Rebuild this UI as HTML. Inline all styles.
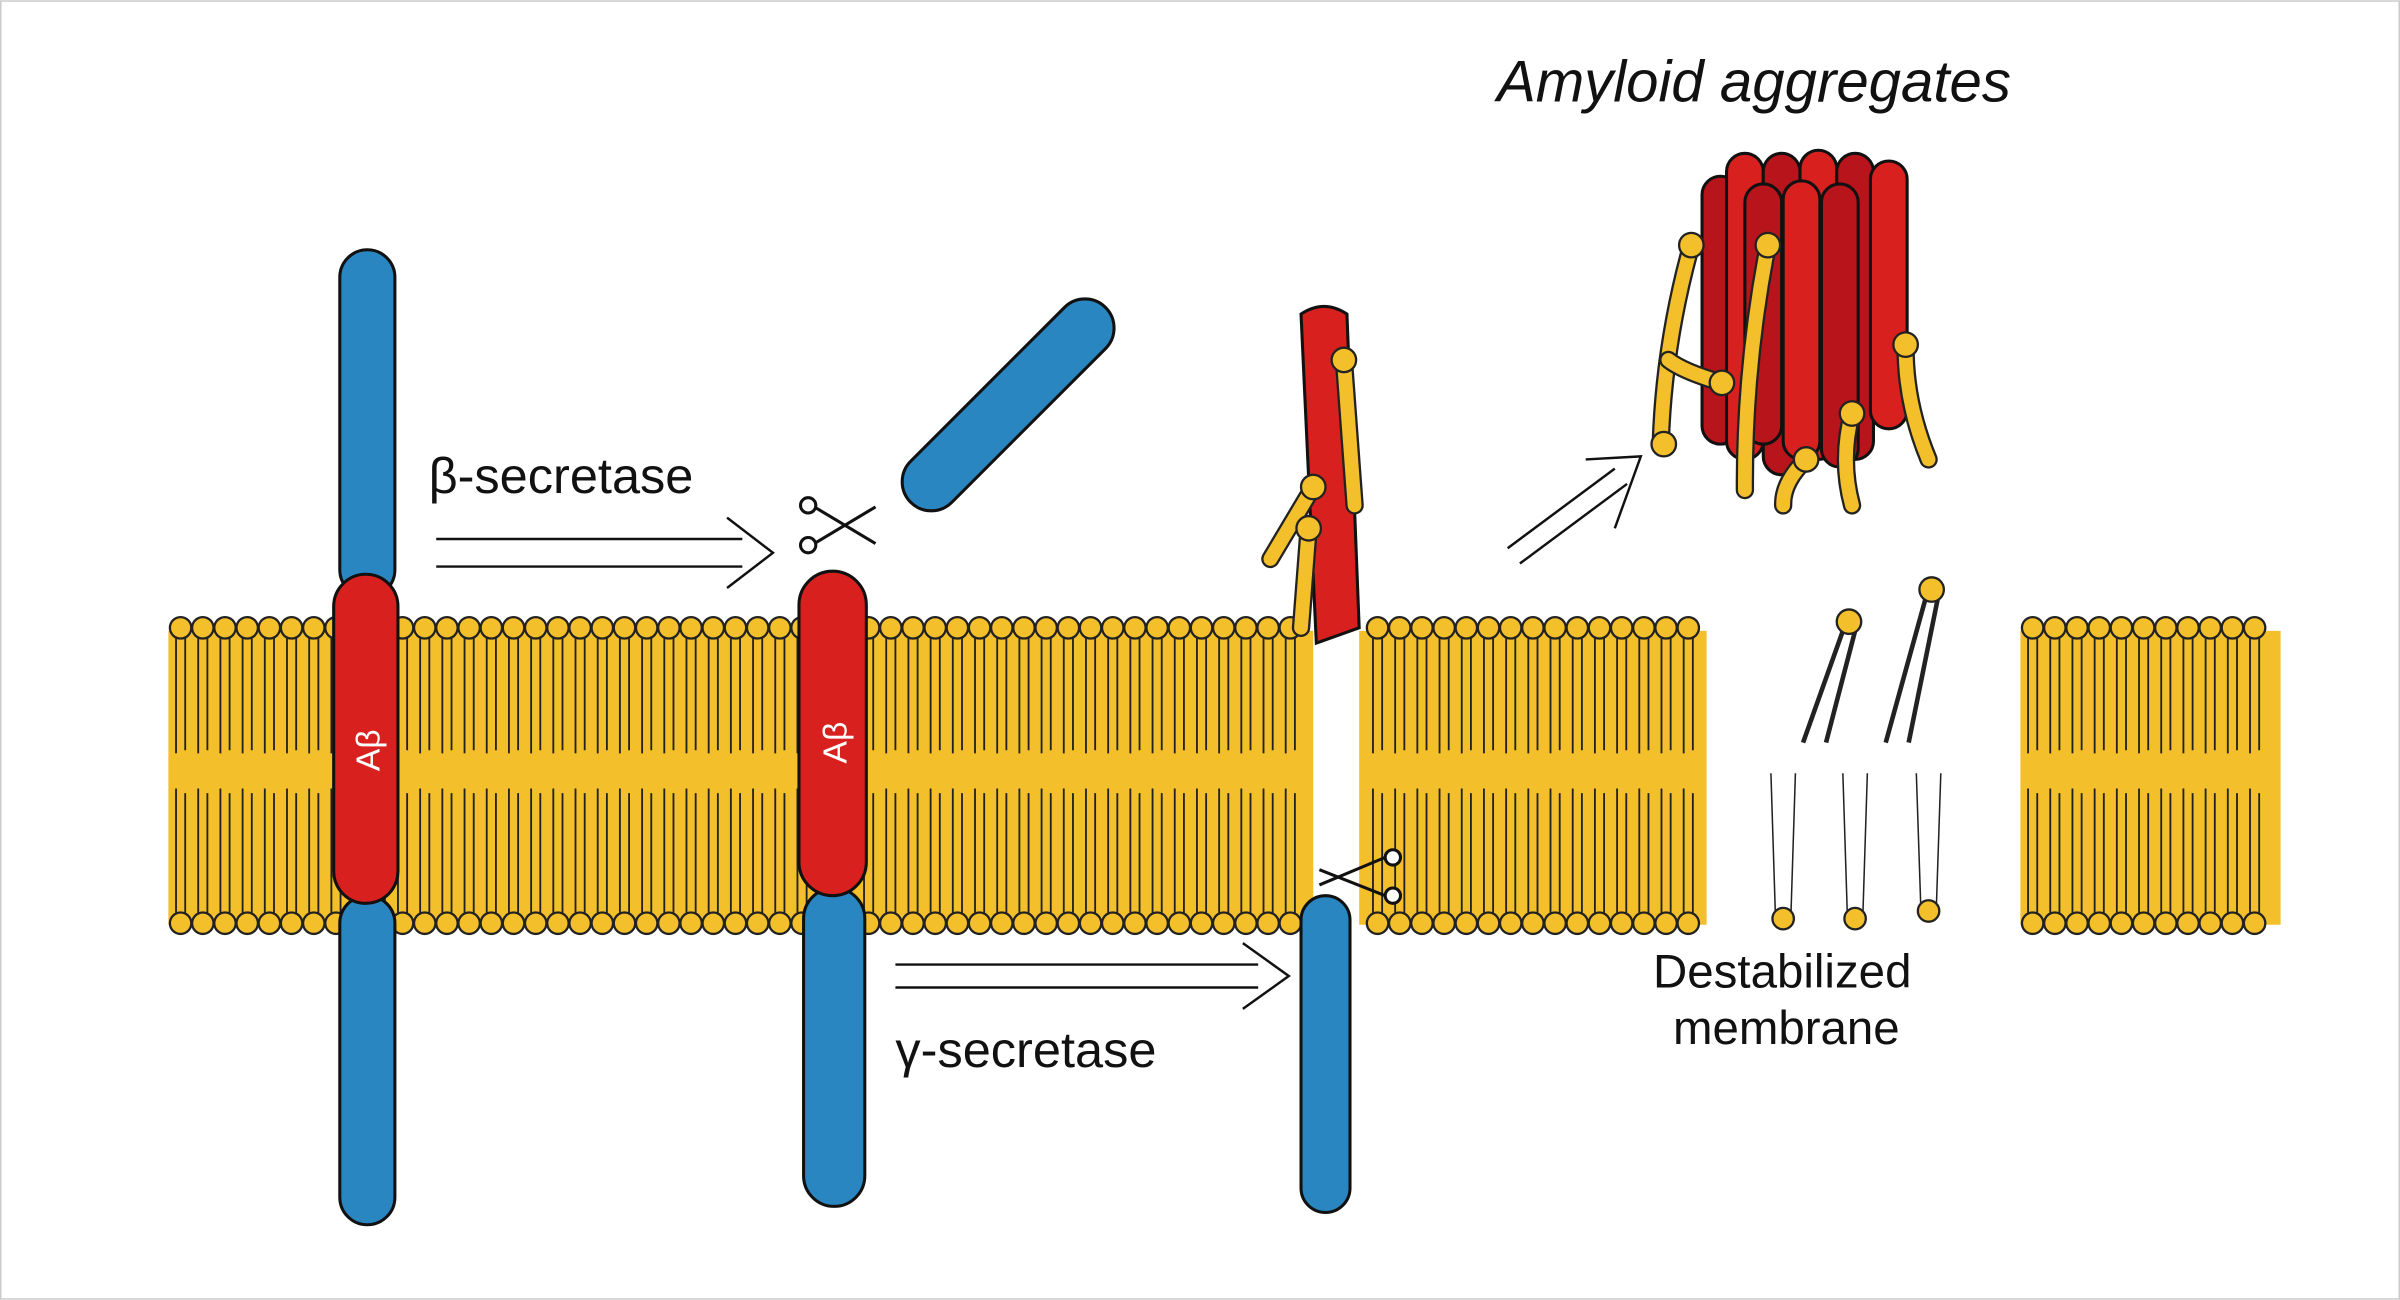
<!DOCTYPE html>
<html><head><meta charset="utf-8"><style>
html,body{margin:0;padding:0;background:#fff;}
svg{display:block;}
text{font-family:"Liberation Sans",sans-serif;fill:#111;}
</style></head><body>
<svg id="s" width="2400" height="1300" viewBox="0 0 1568 849" xmlns="http://www.w3.org/2000/svg">
<rect x="0.5" y="0.5" width="1567" height="848" fill="#fff" stroke="#ccc"/>
<g id="mem"></g>
<g id="fg"></g>
<!-- texts -->
<text x="978" y="66" font-size="38" font-style="italic" font-family="Liberation Serif">Amyloid aggregates</text>
<text x="280" y="322" font-size="33">β-secretase</text>
<text x="585" y="697" font-size="33">γ-secretase</text>
<text x="1080" y="645" font-size="31">Destabilized</text>
<text x="1093" y="682" font-size="31">membrane</text>
</svg>
<script>
const ns="http://www.w3.org/2000/svg";
const mem=document.getElementById('mem'),fg=document.getElementById('fg');
function el(p,t,a){const e=document.createElementNS(ns,t);for(const k in a)e.setAttribute(k,a[k]);p.appendChild(e);return e;}
const Y="#f3bf2a";
// yellow bands
[[110,858],[888,1115],[1320,1490]].forEach(([a,b])=>el(mem,'rect',{x:a,y:412,width:b-a,height:192,fill:Y}));
el(mem,'rect',{x:1115,y:412,width:205,height:192,fill:"none"});
function lipid(x,top){
  if(top){el(mem,'line',{x1:x-3,y1:414,x2:x-3,y2:492,stroke:'#222','stroke-width':1.2});
    el(mem,'line',{x1:x+3,y1:414,x2:x+3,y2:490,stroke:'#222','stroke-width':1.2});
    el(mem,'circle',{cx:x,cy:410,r:7,fill:Y,stroke:'#222','stroke-width':1.5});}
  else{el(mem,'line',{x1:x-3,y1:515,x2:x-3,y2:598,stroke:'#222','stroke-width':1.2});
    el(mem,'line',{x1:x+3,y1:518,x2:x+3,y2:598,stroke:'#222','stroke-width':1.2});
    el(mem,'circle',{cx:x,cy:603,r:7,fill:Y,stroke:'#222','stroke-width':1.5});}
}
function row(a,b){for(let x=a;x<=b;x+=14.5){lipid(x,true);lipid(x,false);}}
row(118,848);row(900,1105);row(1328,1482);
// destabilized lipids
[[1165,600],[1212,600],[1260,595]].forEach(([x,y])=>{el(mem,'path',{d:`M${x-5} ${y} L${x-8} 505 M${x+5} ${y} L${x+8} 505`,stroke:'#222',fill:'none'});el(mem,'circle',{cx:x,cy:y,r:7,fill:Y,stroke:'#222','stroke-width':1.5});});
[[1208,406],[1262,385]].forEach(([x,y])=>{el(mem,'path',{d:`M${x-4} ${y+6} L${x-30} 485 M${x+4} ${y+6} L${x-15} 485`,stroke:'#222',fill:'none','stroke-width':3});el(mem,'circle',{cx:x,cy:y,r:8,fill:Y,stroke:'#222','stroke-width':1.5});});
const B="#2a86c0",R="#d8201e";
function rod(x,y1,y2,w,c){el(fg,'rect',{x:x,y:y1,width:w,height:y2-y1,rx:w/2,fill:c,stroke:'#111','stroke-width':2});}
rod(222,163,390,36,B);rod(222,585,800,36,B);rod(218,375,590,42,R);
rod(525,580,788,40,B);rod(522,373,585,44,R);
rod(850,585,792,32,B);
el(fg,'path',{d:'M850 205 Q865 195 880 205 L888 410 L860 420 Z',fill:R,stroke:'#111','stroke-width':2});
// detached rod
el(fg,'rect',{x:0,y:0,width:180,height:38,rx:19,fill:B,stroke:'#111','stroke-width':2,transform:'translate(595,328) rotate(-45) translate(0,-19)'});
// AB labels
[[240,490],[545,485]].forEach(([x,y])=>{const t=el(fg,'text',{x:0,y:0,'font-size':22,fill:'#fff',transform:`translate(${x+8},${y}) rotate(-90)`,'text-anchor':'middle'});t.textContent='Aβ';t.style.fill='#fff';});
// arrows
function dbl(x1,y1,x2,y2){el(fg,'path',{d:`M${x1} ${y1} L${x2-20} ${y1} M${x1} ${y2} L${x2-20} ${y2} M${x2-30} ${y1-14} L${x2} ${(y1+y2)/2} L${x2-30} ${y2+14}`,stroke:'#111',fill:'none','stroke-width':1.6});}
dbl(285,352,505,370);dbl(585,630,842,645);
el(fg,'path',{d:'M985 358 L1055 306 M993 368 L1063 316 M1036 300 L1072 298 L1055 345',stroke:'#111',fill:'none','stroke-width':1.6});
// scissors
function sc(x,y){el(fg,'path',{d:`M${x-20} ${y-12} L${x+20} ${y+12} M${x-20} ${y+12} L${x+20} ${y-12}`,stroke:'#111','stroke-width':2});el(fg,'circle',{cx:x-24,cy:y-13,r:5,fill:'#fff',stroke:'#111','stroke-width':2});el(fg,'circle',{cx:x-24,cy:y+13,r:5,fill:'#fff',stroke:'#111','stroke-width':2});}
sc(552,343);
el(fg,'path',{d:'M862 578 L905 560 M862 568 L905 585',stroke:'#111','stroke-width':2});
el(fg,'circle',{cx:910,cy:560,r:5,fill:'#fff',stroke:'#111','stroke-width':2});el(fg,'circle',{cx:910,cy:585,r:5,fill:'#fff',stroke:'#111','stroke-width':2});
// amyloid aggregate
const D="#b8141c";
[[1112,115,290],[1128,100,300],[1152,100,310],[1176,98,300],[1200,100,300],[1222,105,280],[1140,120,290],[1165,118,300],[1190,120,305]].forEach(([x,y1,y2],i)=>rod(x,y1,y2,24,i%2?R:D));
[[1105,160,1085,290],[1155,160,1140,320],[1245,225,1260,300],[1210,270,1210,330],[1180,300,1165,330],[1125,250,1090,235]].forEach(([x,y,x2,y2])=>{el(fg,'path',{d:`M${x} ${y} Q${(x+x2)/2-8} ${(y+y2)/2} ${x2} ${y2}`,stroke:'#222','stroke-width':12,fill:'none','stroke-linecap':'round'});el(fg,'path',{d:`M${x} ${y} Q${(x+x2)/2-8} ${(y+y2)/2} ${x2} ${y2}`,stroke:Y,'stroke-width':9,fill:'none','stroke-linecap':'round'});el(fg,'circle',{cx:x,cy:y,r:8,fill:Y,stroke:'#222','stroke-width':1.5});});
el(fg,'circle',{cx:1087,cy:290,r:8,fill:Y,stroke:'#222','stroke-width':1.5});
// lipids on red fragment
[[878,235,885,330],[858,318,830,365],[855,345,850,410]].forEach(([x,y,x2,y2])=>{el(fg,'path',{d:`M${x} ${y} L${x2} ${y2}`,stroke:'#222','stroke-width':12,'stroke-linecap':'round'});el(fg,'path',{d:`M${x} ${y} L${x2} ${y2}`,stroke:Y,'stroke-width':9,'stroke-linecap':'round'});el(fg,'circle',{cx:x,cy:y,r:8,fill:Y,stroke:'#222','stroke-width':1.5});});
</script>
</body></html>
